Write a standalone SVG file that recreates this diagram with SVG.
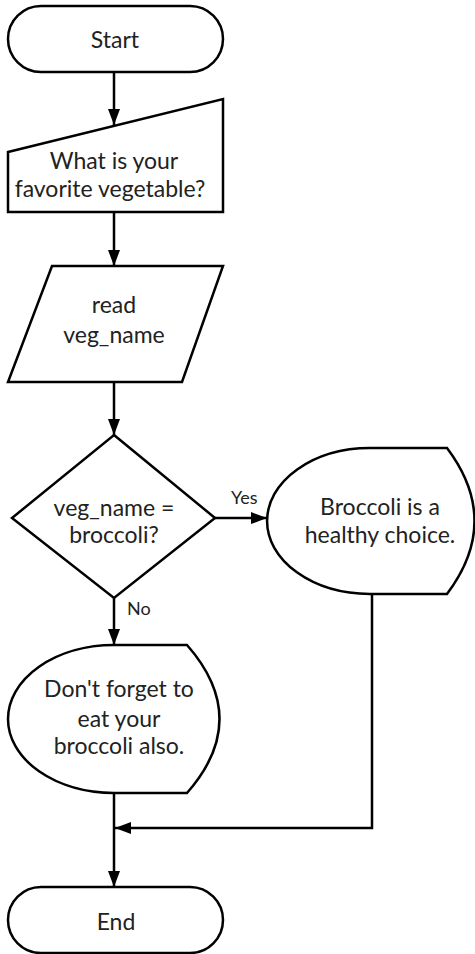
<svg xmlns="http://www.w3.org/2000/svg" width="475" height="954" viewBox="0 0 475 954">
<style>
.s{fill:#fff;stroke:#000;stroke-width:2.5}
.t{font-family:Lato,"Open Sans",sans-serif;font-size:23px;fill:#222;text-anchor:middle}
.l{font-family:Lato,"Open Sans",sans-serif;font-size:18px;fill:#222}
.c{fill:none;stroke:#000;stroke-width:2.5}
</style>
<defs>
<marker id="a" viewBox="0 0 16 12" refX="16" refY="6" markerWidth="16" markerHeight="12" markerUnits="userSpaceOnUse" orient="auto">
<path d="M0,0 L16,6 L0,12 Z" fill="#000"/>
</marker>
</defs>
<g id="connectors">
<path class="c" d="M114,72 V125" marker-end="url(#a)"/>
<path class="c" d="M114,212 V266" marker-end="url(#a)"/>
<path class="c" d="M114,382 V435" marker-end="url(#a)"/>
<path class="c" d="M215,518 H267" marker-end="url(#a)"/>
<path class="c" d="M114,598 V645" marker-end="url(#a)"/>
<path class="c" d="M114,793 V887" marker-end="url(#a)"/>
<path class="c" d="M372,594 V828 H115" marker-end="url(#a)"/>
<text class="l" x="231" y="504">Yes</text>
<text class="l" x="127" y="615">No</text>
</g>
<g id="start">
<rect class="s" x="8" y="6" width="215" height="66" rx="33"/>
<text class="t" x="115" y="48">Start</text>
</g>
<g id="prompt">
<path class="s" d="M8,152 L223,99 L223,212 L8,212 Z"/>
<text class="t" x="114" y="169">What is your</text>
<text class="t" x="110" y="197">favorite vegetable?</text>
</g>
<g id="read">
<path class="s" d="M52,266 L223,266 L182,382 L8,382 Z"/>
<text class="t" x="114" y="313">read</text>
<text class="t" x="114" y="343">veg_name</text>
</g>
<g id="decision">
<path class="s" d="M114,435 L215,518 L114,598 L12,518 Z"/>
<text class="t" x="114" y="516">veg_name =</text>
<text class="t" x="114" y="543">broccoli?</text>
</g>
<g id="yesmsg">
<path class="s" d="M370,448 L447,448 Q502,521 447,594 L370,594 A103,73 0 0 1 370,448 Z"/>
<text class="t" x="380" y="515">Broccoli is a</text>
<text class="t" x="380" y="543">healthy choice.</text>
</g>
<g id="nomsg">
<path class="s" d="M114,645 L187,645 Q252,719 187,793 L114,793 A106,74 0 0 1 114,645 Z"/>
<text class="t" x="119" y="697">Don't forget to</text>
<text class="t" x="119" y="727">eat your</text>
<text class="t" x="119" y="754">broccoli also.</text>
</g>
<g id="end">
<rect class="s" x="8" y="887" width="215" height="66" rx="33"/>
<text class="t" x="116" y="930">End</text>
</g>
</svg>
